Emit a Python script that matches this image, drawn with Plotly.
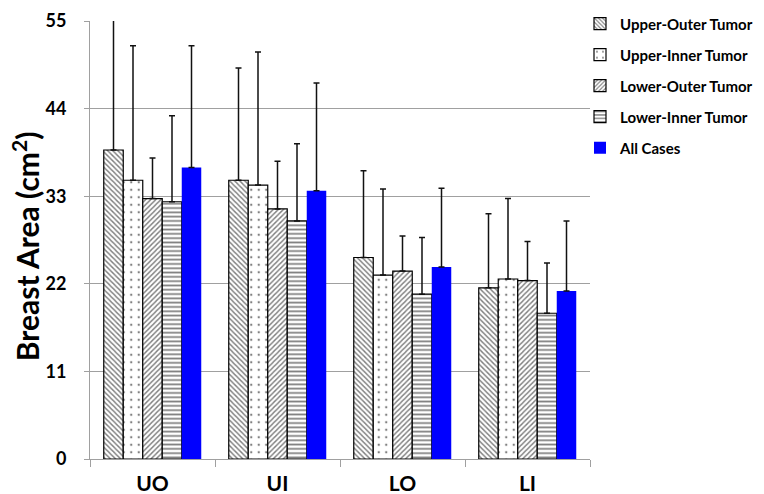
import plotly.graph_objects as go

categories = ["UO", "UI", "LO", "LI"]
series_names = ["Upper-Outer Tumor", "Upper-Inner Tumor", "Lower-Outer Tumor", "Lower-Inner Tumor", "All Cases"]
upper_outer = [38.8, 35.0, 25.3, 21.5]
upper_inner = [35.0, 34.4, 23.1, 22.6]
lower_outer = [32.7, 31.4, 23.6, 22.4]
lower_inner = [32.3, 29.9, 20.7, 18.3]
all_cases = [36.6, 33.7, 24.1, 21.1]
err_upper_outer = [17.5, 14.1, 10.9, 9.3]
err_upper_inner = [16.9, 16.7, 10.8, 10.1]
err_lower_outer = [5.1, 6.0, 4.4, 4.9]
err_lower_inner = [10.8, 9.7, 7.1, 6.3]
err_all_cases = [15.3, 13.5, 9.9, 8.8]
y_ticks = [0, 11, 22, 33, 44, 55]
y_title = "Breast Area (cm<sup>2</sup>)"

values = [upper_outer, upper_inner, lower_outer, lower_inner, all_cases]
errors = [err_upper_outer, err_upper_inner, err_lower_outer, err_lower_inner, err_all_cases]
shapes = ["\\", ".", "/", "-", ""]

fig = go.Figure()
for i, (name, vals, errs, shp) in enumerate(zip(series_names, values, errors, shapes)):
    if shp:
        if shp == ".":
            pat = dict(shape=shp, fgcolor="black", bgcolor="white", size=7.5, solidity=0.08)
        elif shp == "-":
            pat = dict(shape=shp, fgcolor="black", bgcolor="white", size=4.3, solidity=0.4)
        else:
            pat = dict(shape=shp, fgcolor="black", bgcolor="white", size=3.6, solidity=0.38)
        marker = dict(color="white", line=dict(color="black", width=1.2), pattern=pat)
    else:
        marker = dict(color="#0000FF", line=dict(color="#0000FF", width=0))
    fig.add_trace(go.Bar(
        x=categories, y=vals, name=name, marker=marker,
        legendgroup=f"g{i}",
        error_y=dict(type="data", array=errs, arrayminus=[0]*len(errs), symmetric=False,
                     color="#111111", thickness=1.5, width=3),
    ))

fig.update_layout(
    width=764, height=494,
    plot_bgcolor="white", paper_bgcolor="white",
    margin=dict(l=90, r=174, t=21, b=35, autoexpand=False),
    barmode="group", bargap=0.22, bargroupgap=0,
    font=dict(family="Lato, 'Open Sans', sans-serif", color="black"),
    legend=dict(x=0.98, y=1.031, xanchor="left", yanchor="top",
                font=dict(size=15, family="Lato", weight="bold"),
                traceorder="grouped", tracegroupgap=8.5,
                itemwidth=30, bgcolor="rgba(0,0,0,0)"),
    showlegend=True,
)
fig.add_annotation(text=y_title, xref="paper", yref="paper", x=-0.128, y=0.486,
                   xanchor="center", yanchor="middle", textangle=-90, showarrow=False,
                   font=dict(size=30, family="Lato", weight="bold", color="black"))
fig.update_yaxes(range=[0, 55], tickvals=y_ticks, showgrid=True, gridcolor="#A0A0A0", gridwidth=1,
                 showline=True, linecolor="#A0A0A0", linewidth=1, ticks="outside", ticklen=5,
                 tickcolor="#A0A0A0", tickfont=dict(size=18, family="Lato", weight="bold"),
                 ticklabelstandoff=14, zeroline=False, automargin=False)
fig.update_xaxes(showline=True, linecolor="#A0A0A0", linewidth=1, ticks="outside", ticklen=7,
                 tickcolor="#A0A0A0", tickson="boundaries", automargin=False,
                 ticklabelstandoff=6,
                 tickfont=dict(size=21, family="Lato", weight="bold"))

fig.write_html("out.html", post_script="document.body.style.margin='0';",
               config={"displayModeBar": False})
